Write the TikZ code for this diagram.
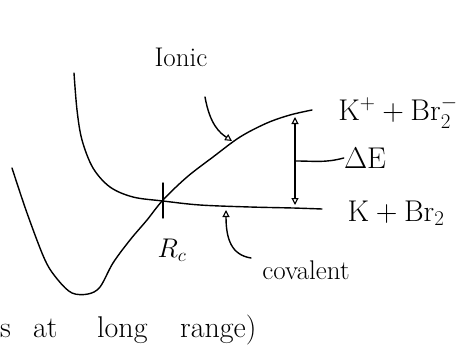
\documentclass[tikz,border=0pt]{standalone}
\usepackage{fix-cm}
\usetikzlibrary{arrows.meta}
\begin{document}
\begin{tikzpicture}[x=1pt,y=-1pt,
  curve/.style={line width=1.4pt, line cap=round, line join=round},
  hand/.style={inner sep=0pt, font=\fontsize{27}{30}\selectfont},
  big/.style={inner sep=0pt, font=\fontsize{30}{34}\selectfont},
  low/.style={inner sep=0pt, anchor=base west, font=\fontsize{30}{34}\selectfont},
  ptr/.style={curve, -{Triangle[open,length=7pt,width=7pt,line width=1.1pt]}},
  dbl/.style={curve, {Triangle[open,length=7pt,width=7pt,line width=1.1pt]}-{Triangle[open,length=7pt,width=7pt,line width=1.1pt]}},
]
\useasboundingbox (0,0) rectangle (468,359);
\fill[white] (0,0) rectangle (468,359);

% key points
\coordinate (rc) at (163,201);
\coordinate (ionpt) at (232,141);
\coordinate (ionstart) at (205,97);
\coordinate (covpt) at (226,210);
\coordinate (covstart) at (251,258);
\coordinate (detop) at (295,117);
\coordinate (debot) at (295,205);
\coordinate (demid) at (296,161);

% covalent curve
\draw[curve] plot[smooth, tension=0.55] coordinates {(74,73) (77,110) (82,140) (93,168) (110,187) (133,197) (163,201) (200,205) (250,207) (293,208) (322,209)};
% ionic curve
\draw[curve] plot[smooth, tension=0.55] coordinates {(12,168) (27,213) (45,260) (58,280) (72,293) (88,294) (100,287) (113,263) (130,240) (147,220) (163,200) (187,177) (213,157) (240,137) (267,123) (290,115) (312,110)};

% crossing tick
\draw[curve] ([yshift=18pt]rc) -- ([yshift=-17pt]rc);

% labels
\node[hand] (ionic) at (181,57) {Ionic};
\node[hand] (cov) at (306,270) {covalent};
\node[hand] (rclbl) at (172,250) {$R_c$};
\node[big] (kpbr) at (398,112) {$\mathrm{K}^{+} + \mathrm{Br}_2^{-}$};
\node[big] (kbr) at (396,213) {$\mathrm{K} + \mathrm{Br}_2$};
\node[big] (delbl) at (365,158) {$\Delta\mathrm{E}$};

% pointers
\draw[ptr] (ionstart) .. controls (210,125) and (220,133) .. (ionpt);
\draw[ptr] (covstart) .. controls (232,255) and (226,240) .. (covpt);

% Delta E
\draw[dbl] (debot) -- (detop);
\draw[curve] (demid) .. controls (315,161) and (325,163) .. (delbl.west);

% bottom line of text
\node[low] (w1) at (0,337) {s};
\node[low] (w2) at (33,337) {at};
\node[low] (w3) at (97,337) {long};
\node[low] (w4) at (180,337) {range)};
\end{tikzpicture}
\end{document}
